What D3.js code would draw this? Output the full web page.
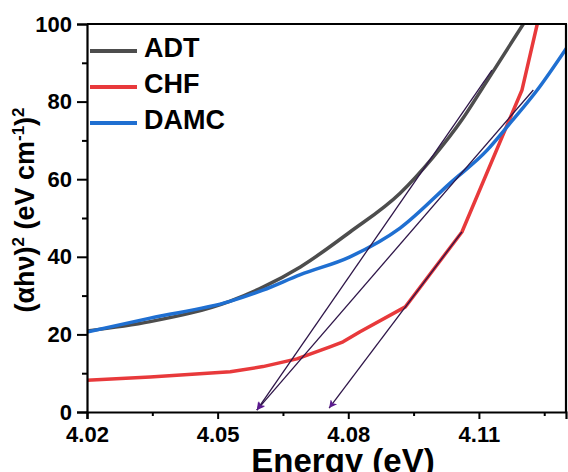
<!DOCTYPE html>
<html lang="en">
<head>
<meta charset="UTF-8">
<title>Tauc plot</title>
<script src="https://d3js.org/d3.v7.min.js"></script>
<style>
  body { margin: 0; background: #fff; }
  svg text { font-family: "Liberation Sans", Arial, sans-serif; font-weight: bold; fill: #000; }
</style>
</head>
<body>
<div id="chart"></div>
<script>
// values
const adtEnergy  = [4.020, 4.0345, 4.0529, 4.0604, 4.069, 4.0804, 4.0919, 4.0995, 4.1061, 4.111, 4.1202];
const adtValues  = [20.9, 23.3, 28.6, 32.2, 37.4, 46.4, 56.4, 65.7, 75.3, 83.8, 100];
const chfEnergy  = [4.020, 4.0345, 4.0529, 4.0604, 4.0682, 4.0758, 4.0788, 4.0827, 4.0931, 4.1061, 4.1199, 4.1234];
const chfValues  = [8.2, 9.0, 10.4, 11.7, 13.7, 16.8, 18.1, 20.7, 27.1, 46.4, 83.0, 100];
const damcEnergy = [4.020, 4.0345, 4.0528, 4.0604, 4.069, 4.0804, 4.0919, 4.1034, 4.1119, 4.1172, 4.1234, 4.1303];
const damcValues = [20.6, 24.2, 28.5, 31.4, 35.4, 40.0, 47.4, 59.0, 67.5, 74.5, 83.0, 94.1];

// tangent (extrapolation) lines: [start at axis, end on curve]
const tangentADT  = [[4.0590, 0.5], [4.1130, 88.1]];
const tangentDAMC = [[4.0590, 0.5], [4.1225, 83.0]];
const tangentCHF  = [[4.0756, 1.0], [4.1061, 46.4]];

const seriesNames  = ["ADT", "CHF", "DAMC"];
const seriesColors = ["#4d4d4d", "#e8393b", "#1f6fd1"];

const xMajor = [4.02, 4.05, 4.08, 4.11];
const xMinor = [4.035, 4.065, 4.095, 4.125];
const yMajor = [0, 20, 40, 60, 80, 100];
const yMinor = [10, 30, 50, 70, 90];

const width = 568, height = 472;
const m = { left: 87, right: 566, top: 24, bottom: 412 };

const svg = d3.select("#chart").append("svg")
  .attr("width", width).attr("height", height);

const x = d3.scaleLinear().domain([4.02, 4.13]).range([m.left, m.right]);
const y = d3.scaleLinear().domain([0, 100]).range([m.bottom, m.top]);

const defs = svg.append("defs");
defs.append("clipPath").attr("id", "clip")
  .append("rect").attr("x", m.left).attr("y", m.top)
  .attr("width", m.right - m.left).attr("height", m.bottom - m.top);

defs.append("marker")
  .attr("id", "arrow")
  .attr("viewBox", "0 0 10 10")
  .attr("refX", 10).attr("refY", 5)
  .attr("markerWidth", 11).attr("markerHeight", 8)
  .attr("markerUnits", "userSpaceOnUse")
  .attr("orient", "auto-start-reverse")
  .append("path").attr("d", "M0,0 L10,5 L0,10 L2.5,5 Z").attr("fill", "#5b1a8e");

// curves
const series = [
  d3.zip(adtEnergy, adtValues),
  d3.zip(chfEnergy, chfValues),
  d3.zip(damcEnergy, damcValues)
];
const curves = [d3.curveMonotoneX, d3.curveLinear, d3.curveMonotoneX];

const plot = svg.append("g").attr("clip-path", "url(#clip)");
series.forEach((s, i) => {
  plot.append("path")
    .datum(s)
    .attr("fill", "none")
    .attr("stroke", seriesColors[i])
    .attr("stroke-width", 3.5)
    .attr("stroke-linejoin", "round")
    .attr("d", d3.line().x(d => x(d[0])).y(d => y(d[1])).curve(curves[i]));
});

// tangents with arrowheads on the axis end
[tangentADT, tangentDAMC, tangentCHF].forEach(t => {
  svg.append("path")
    .datum(t)
    .attr("fill", "none")
    .attr("stroke", "#2e1548")
    .attr("stroke-width", 1.3)
    .attr("marker-start", "url(#arrow)")
    .attr("d", d3.line().x(d => x(d[0])).y(d => y(d[1])));
});

// axes
const xAxis = svg.append("g").attr("transform", `translate(0,${m.bottom})`)
  .call(d3.axisBottom(x).tickValues(xMajor).tickFormat(d3.format(".2f")).tickSize(7).tickPadding(7));
const xAxisMinor = svg.append("g").attr("transform", `translate(0,${m.bottom})`)
  .call(d3.axisBottom(x).tickValues(xMinor).tickFormat("").tickSize(4));
const yAxis = svg.append("g").attr("transform", `translate(${m.left},0)`)
  .call(d3.axisLeft(y).tickValues(yMajor).tickSize(10).tickPadding(5));
const yAxisMinor = svg.append("g").attr("transform", `translate(${m.left},0)`)
  .call(d3.axisLeft(y).tickValues(yMinor).tickFormat("").tickSize(5));

[xAxis, xAxisMinor, yAxis, yAxisMinor].forEach(g => {
  g.selectAll("path.domain").attr("stroke", "#000").attr("stroke-width", 2.2);
  g.selectAll(".tick line").attr("stroke", "#000").attr("stroke-width", 2);
  g.selectAll(".tick text").style("font-size", "22px")
    .style("font-family", "'Liberation Sans', Arial, sans-serif").style("font-weight", "bold");
});
[xAxisMinor, yAxisMinor].forEach(g => g.select("path.domain").remove());

// frame top and right
svg.append("line").attr("x1", m.left).attr("x2", m.right + 1).attr("y1", m.top).attr("y2", m.top)
  .attr("stroke", "#000").attr("stroke-width", 2.2);
svg.append("line").attr("x1", m.right).attr("x2", m.right).attr("y1", m.top).attr("y2", m.bottom)
  .attr("stroke", "#000").attr("stroke-width", 2.2);

// legend
const legendY = [51, 87, 123];
seriesNames.forEach((n, i) => {
  svg.append("line").attr("x1", 90).attr("x2", 137)
    .attr("y1", legendY[i]).attr("y2", legendY[i])
    .attr("stroke", seriesColors[i]).attr("stroke-width", 4);
  svg.append("text").attr("x", 144).attr("y", legendY[i] + 6)
    .style("font-size", "27px").text(n);
});

// axis titles
svg.append("text").attr("x", 343).attr("y", 472).attr("text-anchor", "middle")
  .style("font-size", "33px").text("Energy (eV)");

const yt = svg.append("text")
  .attr("transform", "translate(34,210) rotate(-90)")
  .attr("text-anchor", "middle")
  .style("font-size", "27px");
yt.append("tspan").text("(\u03B1h\u03BD)");
yt.append("tspan").attr("dy", -10).style("font-size", "17px").text("2");
yt.append("tspan").attr("dy", 10).text(" (eV cm");
yt.append("tspan").attr("dy", -10).style("font-size", "17px").text("-1");
yt.append("tspan").attr("dy", 10).text(")");
yt.append("tspan").attr("dy", -10).style("font-size", "17px").text("2");
</script>
</body>
</html>
